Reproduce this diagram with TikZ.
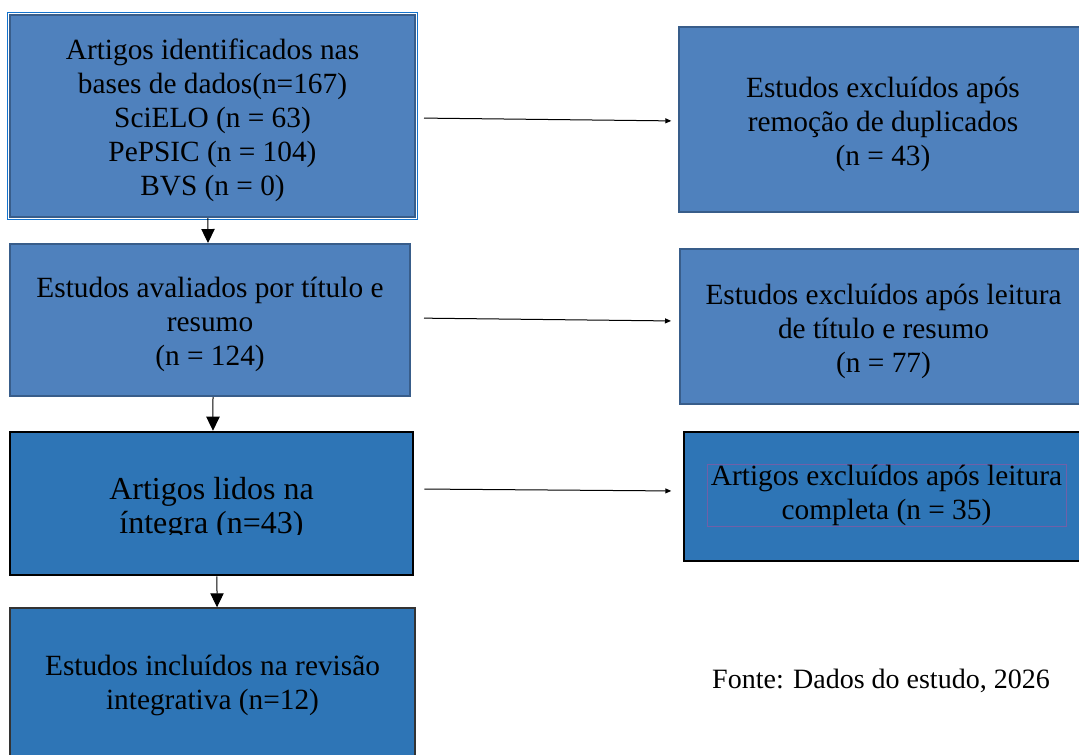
\documentclass[tikz,border=0pt]{standalone}
\usepackage{fontspec}
\setmainfont{Liberation Serif}
\usepackage{tikz}
\usetikzlibrary{arrows.meta, positioning, calc}

\definecolor{boxblue}{RGB}{79, 129, 189}
\definecolor{boxline}{RGB}{56, 93, 138}
\definecolor{deepblue}{RGB}{46, 117, 182}
\definecolor{edgeblue}{RGB}{20, 115, 205}
\definecolor{tbpurple}{RGB}{112, 96, 168}

% taller first line, pushes the text block a little down
\newcommand{\lift}{\rule{0pt}{22pt}}

\tikzset{
  stagebox/.style={draw=boxline, fill=boxblue, line width=1.5pt, align=center,
    inner sep=0pt, font=\fontsize{22}{25.5}\selectfont},
  deepbox/.style={stagebox, fill=deepblue},
  flow/.style={line width=0.75pt, -{Triangle[length=4.5pt, width=3.75pt]}},
  down/.style={line width=0.75pt, -{Triangle[length=10.5pt, width=10pt]}}
}

\begin{document}
\begin{tikzpicture}[x=0.75pt, y=-0.75pt]
  \useasboundingbox (0,0) rectangle (1079,754);

  % Left column
  \node[stagebox, minimum width=303.75pt, minimum height=151.5pt] (ident) at (212.5, 116) {
    \lift Artigos identificados nas\\bases de dados(n=167)\\SciELO (n = 63)\\PePSIC (n = 104)\\BVS (n = 0)
  };
  \draw[edgeblue, line width=1.1pt] ([shift={(-1.25pt,1.25pt)}]ident.north west) rectangle ([shift={(1.25pt,-1.25pt)}]ident.south east);

  \node[stagebox, minimum width=300pt, minimum height=114pt] (eval) at (210, 320) {
    \lift Estudos avaliados por título e\\resumo\\(n = 124)
  };

  \node[deepbox, draw=black, line width=1.9pt, minimum width=302.25pt, minimum height=107.25pt] (read) at (211.5, 503.5) {};
  \coordinate (cut) at (0, 534);
  \begin{scope}
    \clip (read.north west) rectangle (read.east |- cut);
    \node[font=\fontsize{24}{26}\selectfont, align=center] (readtxt) at (211.5, 509) {Artigos lidos na\\íntegra (n=43)};
  \end{scope}

  \node[deepbox, draw=black!80, line width=1.1pt, minimum width=303.75pt, minimum height=115.5pt] (incl) at (212.5, 685) {
    Estudos incluídos na revisão\\integrativa (n=12)
  };

  % Right column
  \node[stagebox, minimum width=306pt, minimum height=138.75pt] (dup) at (883, 119.5) {
    \lift Estudos excluídos após\\remoção de duplicados\\(n = 43)
  };

  \node[stagebox, minimum width=305.25pt, minimum height=116.25pt] (excl) at (883.5, 326.5) {
    \lift Estudos excluídos após leitura\\de título e resumo\\(n = 77)
  };

  \node[deepbox, draw=black, line width=1.1pt, minimum width=302.25pt, minimum height=96.75pt] (full) at (885.5, 496.5) {};
  \node[draw=tbpurple, line width=0.6pt, minimum width=269.25pt, minimum height=46.5pt, inner sep=0pt,
    align=center, font=\fontsize{22}{25.5}\selectfont] (fulltxt) at (886.5, 495) {Artigos excluídos após leitura\\completa (n = 35)};

  \node[font=\fontsize{21}{25}\selectfont, anchor=base] (src) at (881, 688) {Fonte: Dados do estudo, 2026};

  % Arrows down
  \draw[down] ([xshift=-3.4pt]ident.south) -- ([xshift=-1.5pt]eval.north);
  \draw[down] ([xshift=2.25pt]eval.south) -- ([xshift=1.1pt]read.north);
  \draw[down] ([xshift=4.1pt]read.south) -- ([xshift=3.4pt]incl.north);

  % Arrows to the right
  \draw[flow, shorten <=6pt, shorten >=5pt] ([yshift=-1.5pt]ident.east) -- ([yshift=-1.1pt]dup.west);
  \draw[flow, shorten <=9.75pt, shorten >=6pt] ([yshift=1.5pt]eval.east) -- ([yshift=4.1pt]excl.west);
  \draw[flow, shorten <=7.5pt, shorten >=9pt] ([yshift=10.9pt]read.east) -- ([yshift=4.1pt]full.west);
\end{tikzpicture}
\end{document}
